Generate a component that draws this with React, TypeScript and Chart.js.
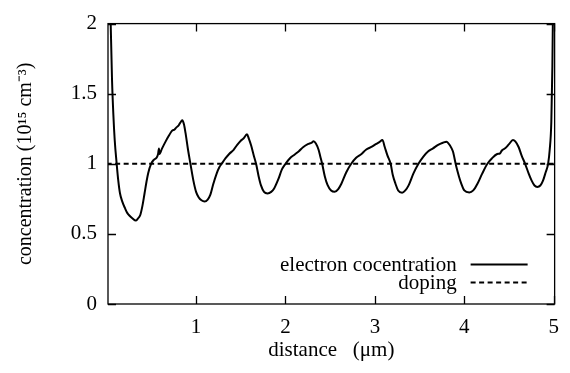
import React, { useEffect, useRef } from "react";
import { Chart, registerables } from "chart.js";

Chart.register(...registerables);

// distance (µm)
const electronX = [
  0.03, 0.045, 0.06, 0.075, 0.09, 0.112, 0.13, 0.149, 0.175, 0.204, 0.23, 0.259, 0.29, 0.325, 0.35, 0.376, 0.4, 0.424,
  0.445, 0.465, 0.497, 0.53, 0.56, 0.575, 0.585, 0.59, 0.62, 0.66, 0.7, 0.73, 0.76, 0.78, 0.8, 0.82, 0.846, 0.865,
  0.882, 0.91, 0.937, 0.97, 1.0, 1.03, 1.06, 1.095, 1.13, 1.16, 1.19, 1.23, 1.26, 1.286, 1.33, 1.37, 1.42, 1.46, 1.5,
  1.53, 1.569, 1.59, 1.616, 1.645, 1.671, 1.7, 1.726, 1.76, 1.8, 1.84, 1.873, 1.92, 1.96, 2.0, 2.05, 2.1, 2.15, 2.2,
  2.25, 2.29, 2.314, 2.34, 2.37, 2.39, 2.41, 2.44, 2.47, 2.51, 2.55, 2.59, 2.625, 2.68, 2.735, 2.79, 2.85, 2.9, 2.96,
  3.01, 3.05, 3.084, 3.11, 3.14, 3.176, 3.2, 3.23, 3.26, 3.304, 3.34, 3.377, 3.43, 3.487, 3.54, 3.597, 3.65, 3.707,
  3.76, 3.8, 3.84, 3.872, 3.91, 3.94, 3.965, 4.0, 4.056, 4.1, 4.147, 4.2, 4.258, 4.31, 4.368, 4.4, 4.42, 4.46, 4.5,
  4.544, 4.57, 4.607, 4.64, 4.68, 4.72, 4.753, 4.785, 4.816, 4.85, 4.88, 4.91, 4.937, 4.955, 4.973, 4.985, 4.993, 5.0,
];
// electron concentration (10^15 cm^-3)
const electronY = [
  2.6, 2.0, 1.6, 1.35, 1.17, 1.0, 0.88, 0.79, 0.73, 0.685, 0.65, 0.628, 0.61, 0.595, 0.61, 0.635, 0.7, 0.79,
  0.87, 0.935, 1.0, 1.03, 1.045, 1.07, 1.11, 1.07, 1.11, 1.16, 1.205, 1.235, 1.245, 1.26, 1.27, 1.29, 1.31, 1.28,
  1.22, 1.1, 1.0, 0.88, 0.8, 0.76, 0.74, 0.731, 0.745, 0.78, 0.85, 0.93, 0.975, 1.0, 1.04, 1.07, 1.1, 1.135, 1.165,
  1.18, 1.21, 1.18, 1.13, 1.06, 1.0, 0.91, 0.846, 0.8, 0.789, 0.8, 0.824, 0.89, 0.96, 1.0, 1.04, 1.065, 1.09, 1.12,
  1.14, 1.15, 1.16, 1.145, 1.1, 1.05, 1.0, 0.91, 0.85, 0.81, 0.8, 0.82, 0.858, 0.94, 1.0, 1.043, 1.07, 1.1, 1.12,
  1.14, 1.155, 1.17, 1.12, 1.06, 1.0, 0.92, 0.858, 0.81, 0.794, 0.81, 0.846, 0.93, 1.0, 1.05, 1.089, 1.11, 1.135,
  1.15, 1.158, 1.13, 1.089, 0.98, 0.91, 0.86, 0.81, 0.795, 0.81, 0.858, 0.93, 1.0, 1.04, 1.07, 1.075, 1.095, 1.112, 1.14,
  1.17, 1.16, 1.12, 1.06, 1.0, 0.93, 0.88, 0.845, 0.835, 0.845, 0.88, 0.94, 1.0, 1.1, 1.3, 1.7, 2.2, 2.6,
];
const dopingX = [0, 5.01];
const dopingY = [1, 1];

const xTicks = [1, 2, 3, 4, 5];
const yTicks = [0, 0.5, 1, 1.5, 2];
const seriesLabels = ["electron cocentration", "doping"];
const xTitle = "distance   (μm)";
const yTitle = "concentration (10¹⁵ cm⁻³)";

const FONT = "'Liberation Serif', 'Times New Roman', serif";

const framePlugin = {
  id: "gnuplotFrame",
  afterDraw(chart: any) {
    const { ctx, chartArea: a } = chart;
    const xs = chart.scales.x;
    const ys = chart.scales.y;
    ctx.save();
    ctx.strokeStyle = "#000";
    ctx.lineWidth = 1.3;
    ctx.strokeRect(a.left, a.top, a.right - a.left, a.bottom - a.top);
    const tl = 8;
    ctx.beginPath();
    for (const v of xTicks) {
      const px = Math.round(xs.getPixelForValue(v)) + 0.5;
      ctx.moveTo(px, a.bottom);
      ctx.lineTo(px, a.bottom - tl);
      ctx.moveTo(px, a.top);
      ctx.lineTo(px, a.top + tl);
    }
    for (const v of yTicks) {
      const py = Math.round(ys.getPixelForValue(v)) + 0.5;
      ctx.moveTo(a.left, py);
      ctx.lineTo(a.left + tl, py);
      ctx.moveTo(a.right, py);
      ctx.lineTo(a.right - tl, py);
    }
    ctx.stroke();

    // legend (inside plot, bottom right)
    ctx.font = `21px ${FONT}`;
    ctx.fillStyle = "#000";
    ctx.textAlign = "right";
    ctx.textBaseline = "middle";
    const textRight = a.right - 98;
    const lx0 = a.right - 84;
    const lx1 = a.right - 27;
    const rows = [a.bottom - 40, a.bottom - 22];
    chart.data.datasets.forEach((ds: any, i: number) => {
      const y = rows[i];
      ctx.fillText(ds.label, textRight, y + 1);
      ctx.beginPath();
      ctx.lineWidth = 2;
      ctx.setLineDash(ds.borderDash || []);
      ctx.moveTo(lx0, y + 0.5);
      ctx.lineTo(lx1, y + 0.5);
      ctx.stroke();
      ctx.setLineDash([]);
    });
    ctx.restore();
  },
};

export default function App() {
  const ref = useRef<HTMLCanvasElement>(null);
  useEffect(() => {
    if (!ref.current) return;
    Chart.defaults.color = "#000";
    const chart = new Chart(ref.current, {
      type: "line",
      data: {
        datasets: [
          {
            label: seriesLabels[0],
            data: electronX.map((x, i) => ({ x, y: electronY[i] })),
            borderColor: "#000",
            borderWidth: 2,
            pointRadius: 0,
            cubicInterpolationMode: "monotone",
            fill: false,
          },
          {
            label: seriesLabels[1],
            data: dopingX.map((x, i) => ({ x, y: dopingY[i] })),
            borderColor: "#000",
            borderWidth: 2,
            borderDash: [5, 3.5],
            pointRadius: 0,
            fill: false,
          },
        ],
      },
      options: {
        responsive: false,
        animation: false,
        events: [],
        layout: { padding: { left: 0, right: 8, top: 15, bottom: 0 } },
        plugins: { legend: { display: false }, tooltip: { enabled: false } },
        scales: {
          x: {
            type: "linear",
            min: 0.015,
            max: 5.01,
            grid: { display: false, drawTicks: false },
            border: { display: false },
            afterBuildTicks: (axis: any) => {
              axis.ticks = xTicks.map((v) => ({ value: v }));
            },
            afterFit: (axis: any) => {
              axis.height = 69;
            },
            ticks: {
              padding: 11,
              autoSkip: false,
              maxRotation: 0,
              font: { family: FONT, size: 21 },
              color: "#000",
              callback: (v: any) => String(v),
            },
            title: {
              display: true,
              text: xTitle,
              font: { family: FONT, size: 21 },
              color: "#000",
              padding: { top: 0, bottom: 10 },
            },
          },
          y: {
            min: 0,
            max: 2,
            grid: { display: false, drawTicks: false },
            border: { display: false },
            afterBuildTicks: (axis: any) => {
              axis.ticks = yTicks.map((v) => ({ value: v }));
            },
            afterFit: (axis: any) => {
              axis.width = 108;
            },
            ticks: {
              padding: 11,
              font: { family: FONT, size: 21 },
              color: "#000",
              callback: (v: any) => String(v),
            },
            title: {
              display: true,
              text: yTitle,
              font: { family: FONT, size: 20 },
              color: "#000",
              padding: { top: 14, bottom: 14 },
            },
          },
        },
      },
      plugins: [framePlugin],
    });
    return () => chart.destroy();
  }, []);
  return (
    <div style={{ position: "absolute", left: 0, top: 0, width: 570, height: 373, background: "#fff" }}>
      <canvas ref={ref} width={570} height={373} />
    </div>
  );
}
